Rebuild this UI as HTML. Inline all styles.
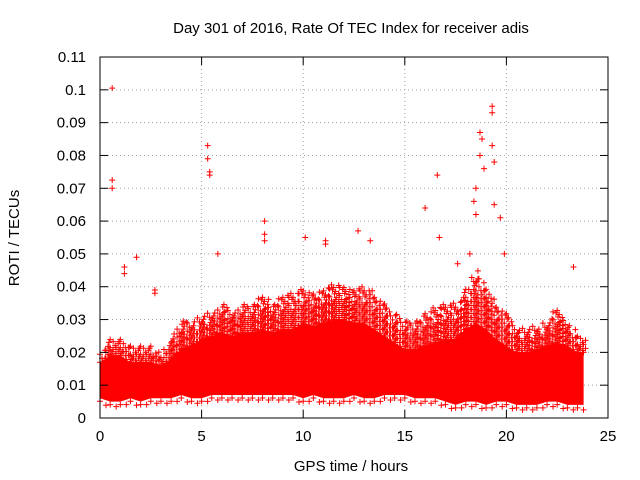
<!DOCTYPE html>
<html><head><meta charset="utf-8"><style>
body{margin:0;background:#fff}
svg{display:block;font-family:"Liberation Sans",sans-serif}
</style></head><body>
<svg id="chart" width="640" height="480" viewBox="0 0 640 480">
<text x="351" y="33" font-size="15" text-anchor="middle">Day 301 of 2016, Rate Of TEC Index for receiver adis</text>
<text transform="translate(19,238) rotate(-90)" font-size="15" text-anchor="middle">ROTI / TECUs</text>
<text x="351" y="471" font-size="15" text-anchor="middle">GPS time / hours</text>
<g id="grid"></g><g id="data"></g><g id="axes"></g>
</svg>
<script>
const xTicks=[0,5,10,15,20,25];
const yTicks=[0,0.01,0.02,0.03,0.04,0.05,0.06,0.07,0.08,0.09,0.1,0.11];
const yTickLabels=["0","0.01","0.02","0.03","0.04","0.05","0.06","0.07","0.08","0.09","0.1","0.11"];
const hours=[0,0.5,1,1.5,2,2.5,3,3.5,4,4.5,5,5.5,6,6.5,7,7.5,8,8.5,9,9.5,10,10.5,11,11.5,12,12.5,13,13.5,14,14.5,15,15.5,16,16.5,17,17.5,18,18.5,19,19.5,20,20.5,21,21.5,22,22.5,23,23.5,23.8];
const upper=[0.02,0.025,0.025,0.022,0.022,0.022,0.02,0.025,0.03,0.03,0.032,0.033,0.035,0.033,0.035,0.035,0.038,0.035,0.038,0.038,0.04,0.038,0.04,0.042,0.04,0.04,0.04,0.038,0.035,0.032,0.03,0.03,0.032,0.035,0.035,0.035,0.04,0.045,0.04,0.035,0.032,0.028,0.028,0.028,0.03,0.035,0.03,0.025,0.025];
const coreUpper=[0.017,0.019,0.019,0.017,0.017,0.017,0.016,0.018,0.021,0.022,0.024,0.025,0.026,0.025,0.026,0.026,0.027,0.026,0.027,0.027,0.029,0.028,0.029,0.03,0.03,0.029,0.029,0.027,0.025,0.023,0.021,0.021,0.022,0.023,0.024,0.024,0.027,0.029,0.027,0.024,0.022,0.02,0.02,0.021,0.022,0.023,0.022,0.02,0.02];
const lower=[0.006,0.005,0.005,0.006,0.005,0.006,0.006,0.006,0.007,0.006,0.006,0.007,0.007,0.007,0.007,0.007,0.007,0.007,0.007,0.007,0.006,0.007,0.006,0.006,0.006,0.007,0.006,0.006,0.007,0.007,0.007,0.006,0.006,0.006,0.005,0.004,0.005,0.005,0.004,0.005,0.005,0.004,0.004,0.004,0.005,0.005,0.004,0.004,0.004];
const outHours=[0.6,0.6,0.6,1.2,1.2,1.8,2.7,2.7,5.3,5.3,5.4,5.4,5.8,8.1,8.1,8.1,10.1,11.1,11.1,12.7,13.3,16,16.6,16.7,18.4,18.5,18.5,18.7,18.8,18.7,18.9,19.3,19.3,19.3,19.4,19.4,19.7,19.9,23.3,17.6,18.2];
const outValues=[0.1005,0.0725,0.07,0.046,0.044,0.049,0.039,0.038,0.083,0.079,0.075,0.074,0.05,0.06,0.056,0.054,0.055,0.053,0.054,0.057,0.054,0.064,0.074,0.055,0.066,0.07,0.062,0.087,0.085,0.08,0.076,0.095,0.093,0.083,0.078,0.065,0.061,0.05,0.046,0.047,0.05];
const L=100,R=608,T=57,B=418;
const xs=v=>L+(v/25)*(R-L);
const ys=v=>B-(v/0.11)*(B-T);
const NS="http://www.w3.org/2000/svg";
function mk(tag,attrs,parent){const e=document.createElementNS(NS,tag);for(const k in attrs)e.setAttribute(k,attrs[k]);parent.appendChild(e);return e;}
const grid=document.getElementById('grid'),data=document.getElementById('data'),axes=document.getElementById('axes');
xTicks.forEach(t=>{
  if(t>0&&t<25){const g=mk('line',{x1:xs(t),x2:xs(t),y1:T,y2:B,stroke:'#a0a0a0','stroke-dasharray':'1,3'},grid);
  
  }
  const tl=mk('text',{x:xs(t),y:B+23,'font-size':15,'text-anchor':'middle'},axes);tl.textContent=t;
  
  
  mk('line',{x1:xs(t),x2:xs(t),y1:B,y2:B-8,stroke:'#000'},axes);
  mk('line',{x1:xs(t),x2:xs(t),y1:T,y2:T+8,stroke:'#000'},axes);
});
yTicks.forEach((t,i)=>{
  if(i>0&&i<yTicks.length-1){const g=mk('line',{x1:L,x2:R,y1:ys(t),y2:ys(t),stroke:'#a0a0a0','stroke-dasharray':'1,3'},grid);
  
  }
  const tl=mk('text',{x:L-14,y:ys(t)+5,'font-size':15,'text-anchor':'end'},axes);tl.textContent=yTickLabels[i];
  
  
  mk('line',{x1:L,x2:L+8,y1:ys(t),y2:ys(t),stroke:'#000'},axes);
  mk('line',{x1:R,x2:R-8,y1:ys(t),y2:ys(t),stroke:'#000'},axes);
});
const border=mk('rect',{x:L,y:T,width:R-L,height:B-T,fill:'none',stroke:'#000'},axes);


function plus(x,y,name){const p=mk('path',{d:`M${x-3},${y}h6M${x},${y-3}v6`,stroke:'#ff0000','stroke-width':1},data);
  
  }
for(let i=0;i<hours.length-1;i++){
  const x0=xs(hours[i]),x1=xs(hours[i+1]);
  for(let x=x0,k=0;x<x1;x+=3,k++){
    const f=(x-x0)/(x1-x0);
    const yTop=ys(upper[i]+(upper[i+1]-upper[i])*f);
    const yCore=ys(coreUpper[i]+(coreUpper[i+1]-coreUpper[i])*f);
    for(let y=yCore,j=0;y>yTop;y-=4,j++){
      if((k+j)%3!==0||y>yTop+(yCore-yTop)*0.4)plus(x+((j%2)*2),y+((k%2)*2),'roti-point');
    }
    const yLow=ys(lower[i]+(lower[i+1]-lower[i])*f);
    if(k%2===0)plus(x,yLow+3+(k%4),'roti-point');
  }
}
let pts=hours.map((h,i)=>xs(h)+','+ys(coreUpper[i]));
for(let i=hours.length-1;i>=0;i--)pts.push(xs(hours[i])+','+ys(lower[i]));
const band=mk('polygon',{points:pts.join(' '),fill:'#ff0000'},data);


outHours.forEach((h,i)=>plus(xs(h),ys(outValues[i]),'roti-outlier'));
</script>
</body></html>
